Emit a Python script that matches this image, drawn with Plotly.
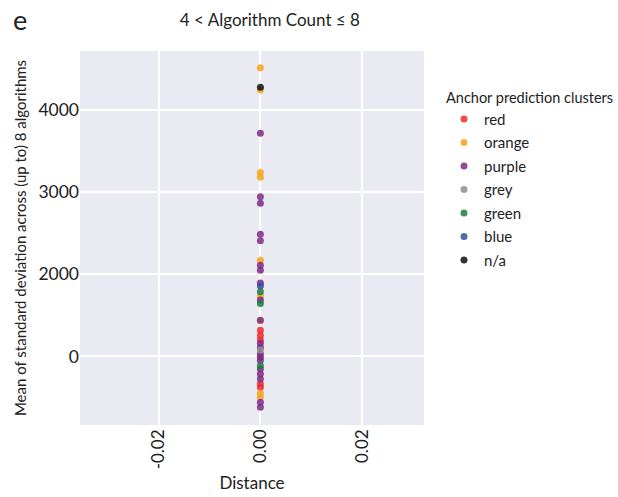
import plotly.graph_objects as go

# Data (Distance is 0 for every point in this panel)
red_vals = [1320, 1255, 1200, 665, 625]
orange_vals = [4515, 4243, 3240, 3180, 2170, 1737, 1435, 552, 503]
purple_vals = [3716, 2945, 2865, 2487, 2409, 2110, 2050, 1893, 1688, 1440,
               1160, 1110, 1030, 990, 950, 848, 787, 726, 442, 381]
grey_vals = [1080]
green_vals = [1789, 1645, 888]
blue_vals = [1858]
na_vals = [4276]

clusters = ["red", "orange", "purple", "grey", "green", "blue", "n/a"]
cluster_vals = [red_vals, orange_vals, purple_vals, grey_vals, green_vals, blue_vals, na_vals]
cluster_colors = ["#ee2a2e", "#f9a21b", "#7d2a85", "#8e8e8e", "#1a7f3c", "#3050a0", "#111111"]

y_tickvals = [1000, 2000, 3000, 4000]
y_ticktext = ["0", "2000", "3000", "4000"]
x_tickvals = [-0.02, 0.0, 0.02]
x_ticktext = ["-0.02", "0.00", "0.02"]

FONT = "Lato"

fig = go.Figure()
for name, vals, col in zip(clusters, cluster_vals, cluster_colors):
    fig.add_trace(go.Scatter(
        x=[0.0] * len(vals), y=vals, mode="markers", name=name,
        legendgroup=name,
        marker=dict(color=col, size=7, opacity=0.85, line=dict(width=0)),
    ))

fig.update_layout(
    width=618, height=497,
    margin=dict(l=80, r=194, t=51, b=72),
    paper_bgcolor="white",
    plot_bgcolor="#eaeaf2",
    font=dict(family=FONT, size=14, color="#222222"),
    title=dict(text="4 &lt; Algorithm Count ≤ 8", x=0.552, xref="paper", xanchor="center",
               y=1 - 20 / 497, yref="container", yanchor="middle",
               font=dict(family=FONT, size=17, color="#222222")),
    legend=dict(
        title=dict(text="Anchor prediction clusters", font=dict(family=FONT, size=14.5)),
        xref="container", yref="container",
        x=444 / 618, xanchor="left", y=1 - 84 / 497, yanchor="top",
        font=dict(family=FONT, size=15),
        traceorder="grouped", tracegroupgap=1,
        bgcolor="rgba(0,0,0,0)", borderwidth=0,
    ),
    xaxis=dict(
        range=[-0.0355, 0.0322], tickvals=x_tickvals, ticktext=x_ticktext,
        tickangle=-90, showgrid=True, gridcolor="white", gridwidth=2,
        zeroline=False, showline=False, ticks="", automargin=False,
        title=dict(text="Distance", font=dict(family=FONT, size=17), standoff=8),
        tickfont=dict(family=FONT, size=17),
    ),
    yaxis=dict(
        range=[166, 4718], tickvals=y_tickvals, ticktext=y_ticktext,
        showgrid=True, gridcolor="white", gridwidth=2,
        zeroline=False, showline=False, ticks="", automargin=False,
        title=dict(text="Mean of standard deviation across (up to) 8 algorithms",
                   font=dict(family=FONT, size=15), standoff=8),
        tickfont=dict(family=FONT, size=17.5),
    ),
    annotations=[dict(text="e", xref="paper", yref="paper",
                      x=(11 - 80) / 344, y=(425 - 1) / 374,
                      xanchor="left", yanchor="top", showarrow=False,
                      font=dict(family=FONT, size=27, color="#222222"))],
)

fig.write_html("out.html")
